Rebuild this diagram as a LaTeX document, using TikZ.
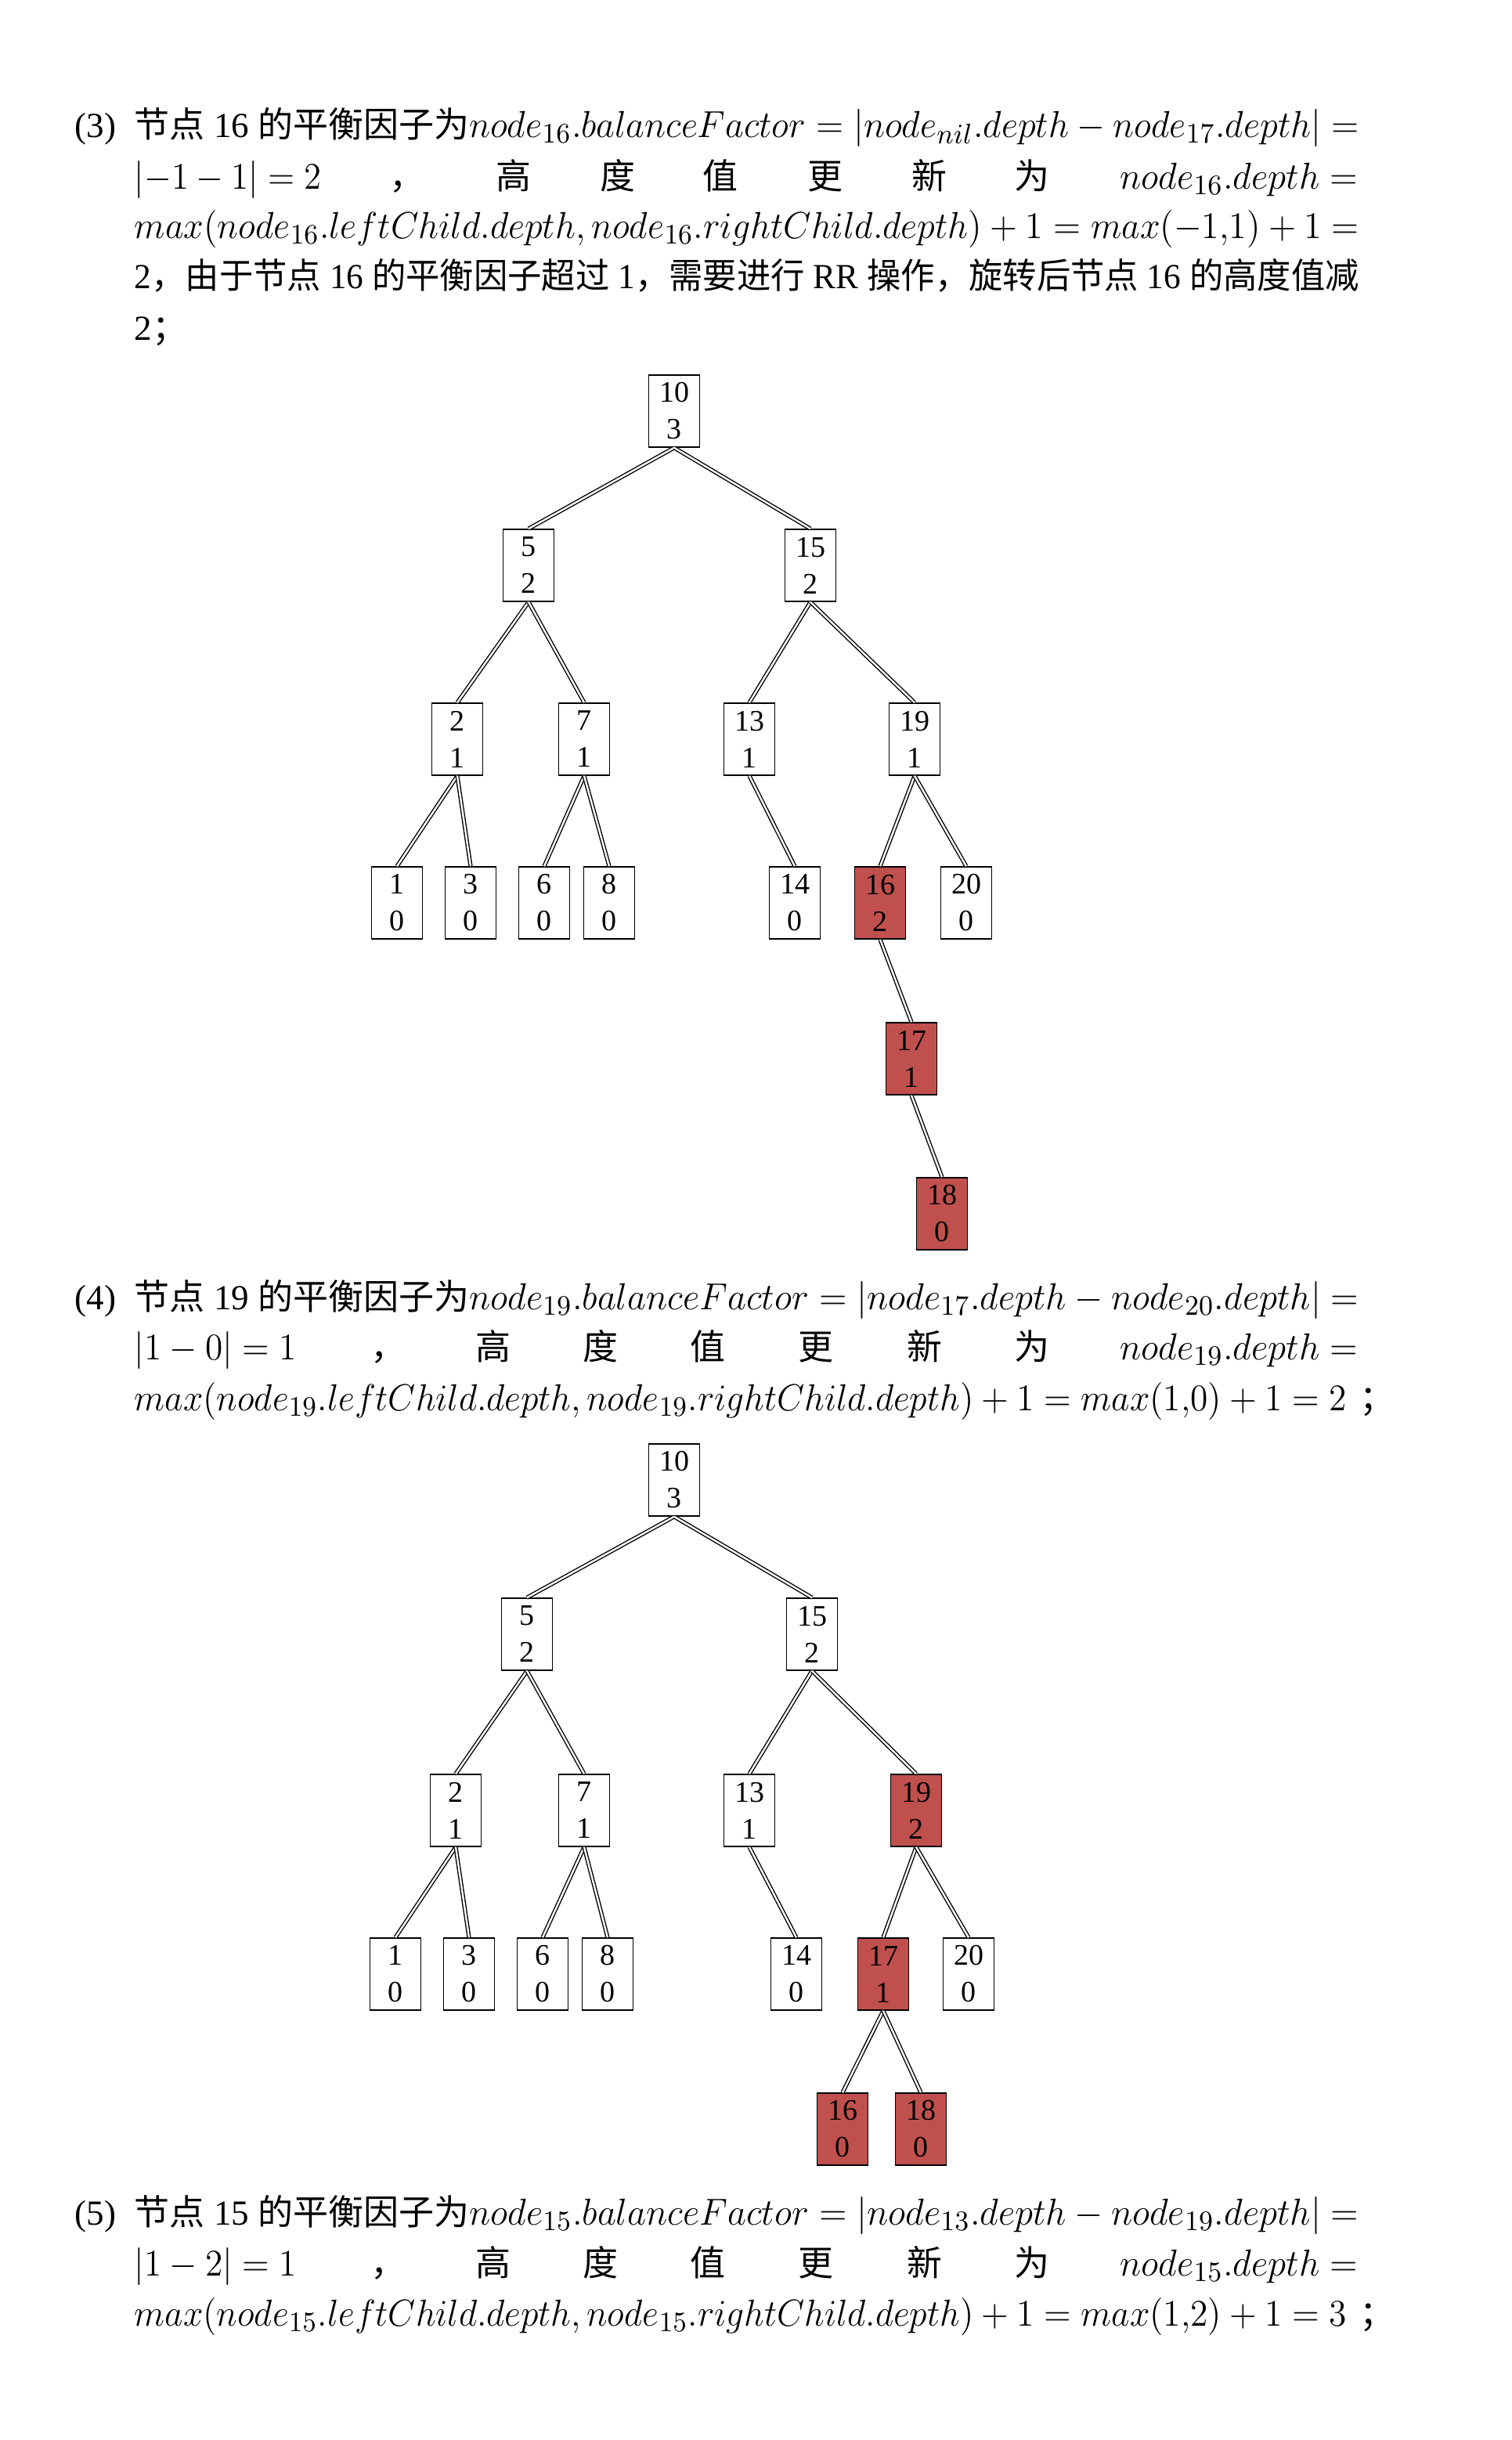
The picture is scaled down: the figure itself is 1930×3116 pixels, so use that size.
\documentclass[tikz,border=0pt]{standalone}
\usepackage{fontspec}
\setmainfont{Liberation Serif}
\newfontfamily\cjk{Noto Sans CJK SC}
\usepackage{graphicx}
\definecolor{boxred}{HTML}{C0504D}
\newcommand{\fitln}[2]{\resizebox{#1}{\height}{#2}}
\newcommand{\mth}[1]{{\fontsize{12.6}{14}\selectfont$#1$}}
\tikzset{
 tn/.style={draw, line width=0.4pt, minimum width=16.25pt, minimum height=23pt, inner sep=0pt, align=center, font=\fontsize{9.5}{11.75}\selectfont},
 hot/.style={tn, fill=boxred},
 edge/.style={double, double distance=0.6pt, line width=0.35pt},
 txt/.style={anchor=base west, inner sep=0pt, font=\fontsize{11.25}{13}\selectfont},
 ctxt/.style={anchor=base, inner sep=0pt, font=\fontsize{11.25}{13}\selectfont},
 rtxt/.style={anchor=base east, inner sep=0pt, font=\fontsize{11.25}{13}\selectfont},
}
\begin{document}
\begin{tikzpicture}[x=0.25pt, y=-0.25pt]
\fill[white] (0,0) rectangle (1930,3116);
\useasboundingbox (0,0) rectangle (1930,3116);

% ---------- Section (3) ----------
\node[txt] (p3) at (95,175) {(3)};
\node[txt] (s3l1) at (171,175) {{\cjk 节点} 16 {\cjk 的平衡因子为}\fitln{284pt}{\mth{node_{16}.balanceFactor=|node_{nil}.depth-node_{17}.depth|=}}};
\node[txt] (s3l2a) at (171,241) {\fitln{59.75pt}{\mth{|{-1}-1|=2}}};
\node[txt] (s3l2b) at (497,241) {\cjk ，};
\node[ctxt] (s3g1) at (656,241) {\cjk 高};
\node[ctxt] (s3g2) at (789,241) {\cjk 度};
\node[ctxt] (s3g3) at (920,241) {\cjk 值};
\node[ctxt] (s3g4) at (1054,241) {\cjk 更};
\node[ctxt] (s3g5) at (1187,241) {\cjk 新};
\node[ctxt] (s3g6) at (1318,241) {\cjk 为};
\node[rtxt] (s3l2c) at (1735,241) {\fitln{76pt}{\mth{node_{16}.depth=}}};
\node[txt] (s3l3) at (171,304) {\fitln{391pt}{\mth{max(node_{16}.leftChild.depth,node_{16}.rightChild.depth)+1=max({-1}{,}1)+1=}}};
\node[txt] (s3l4) at (171,368) {\fitln{391pt}{2{\cjk ，由于节点} 16 {\cjk 的平衡因子超过} 1{\cjk ，需要进行} RR {\cjk 操作，旋转后节点} 16 {\cjk 的高度值减}}};
\node[txt] (s3l5) at (171,434) {2{\cjk ；}};

% ---------- Tree 1 ----------
\node[tn] (a10) at (861,525) {10\\3};
\node[tn] (a5) at (675,722) {5\\2};
\node[tn] (a15) at (1035,722) {15\\2};
\node[tn] (a2) at (584,944) {2\\1};
\node[tn] (a7) at (746,944) {7\\1};
\node[tn] (a13) at (957,944) {13\\1};
\node[tn] (a19) at (1168,944) {19\\1};
\node[tn] (a1) at (507,1153) {1\\0};
\node[tn] (a3) at (601,1153) {3\\0};
\node[tn] (a6) at (695,1153) {6\\0};
\node[tn] (a8) at (778,1153) {8\\0};
\node[tn] (a14) at (1015,1153) {14\\0};
\node[hot] (a16) at (1124,1153) {16\\2};
\node[tn] (a20) at (1234,1153) {20\\0};
\node[hot] (a17) at (1164,1352) {17\\1};
\node[hot] (a18) at (1203,1550) {18\\0};
\foreach \p/\c in {a10/a5,a10/a15,a5/a2,a5/a7,a15/a13,a15/a19,a2/a1,a2/a3,a7/a6,a7/a8,a13/a14,a19/a16,a19/a20,a16/a17,a17/a18}
  \draw[edge] (\p.south) -- (\c.north);

% ---------- Section (4) ----------
\node[txt] (p4) at (95,1672) {(4)};
\node[txt] (s4l1) at (171,1672) {{\cjk 节点} 19 {\cjk 的平衡因子为}\fitln{284pt}{\mth{node_{19}.balanceFactor=|node_{17}.depth-node_{20}.depth|=}}};
\node[txt] (s4l2a) at (171,1736) {\fitln{51.75pt}{\mth{|1-0|=1}}};
\node[txt] (s4l2b) at (473,1736) {\cjk ，};
\node[ctxt] (s4g1) at (630,1736) {\cjk 高};
\node[ctxt] (s4g2) at (767,1736) {\cjk 度};
\node[ctxt] (s4g3) at (904,1736) {\cjk 值};
\node[ctxt] (s4g4) at (1042,1736) {\cjk 更};
\node[ctxt] (s4g5) at (1181,1736) {\cjk 新};
\node[ctxt] (s4g6) at (1318,1736) {\cjk 为};
\node[rtxt] (s4l2c) at (1735,1736) {\fitln{76pt}{\mth{node_{19}.depth=}}};
\node[txt] (s4l3) at (171,1801) {\fitln{387pt}{\mth{max(node_{19}.leftChild.depth,node_{19}.rightChild.depth)+1=max(1{,}0)+1=2}}};
\node[txt] (s4l3b) at (1736,1801) {\cjk ；};

% ---------- Tree 2 ----------
\node[tn] (b10) at (861,1890) {10\\3};
\node[tn] (b5) at (673,2087) {5\\2};
\node[tn] (b15) at (1037,2087) {15\\2};
\node[tn] (b2) at (582,2312) {2\\1};
\node[tn] (b7) at (746,2312) {7\\1};
\node[tn] (b13) at (957,2312) {13\\1};
\node[hot] (b19) at (1170,2312) {19\\2};
\node[tn] (b1) at (505,2521) {1\\0};
\node[tn] (b3) at (599,2521) {3\\0};
\node[tn] (b6) at (693,2521) {6\\0};
\node[tn] (b8) at (776,2521) {8\\0};
\node[tn] (b14) at (1017,2521) {14\\0};
\node[hot] (b17) at (1128,2521) {17\\1};
\node[tn] (b20) at (1237,2521) {20\\0};
\node[hot] (b16) at (1076,2719) {16\\0};
\node[hot] (b18) at (1176,2719) {18\\0};
\foreach \p/\c in {b10/b5,b10/b15,b5/b2,b5/b7,b15/b13,b15/b19,b2/b1,b2/b3,b7/b6,b7/b8,b13/b14,b19/b17,b19/b20,b17/b16,b17/b18}
  \draw[edge] (\p.south) -- (\c.north);

% ---------- Section (5) ----------
\node[txt] (p5) at (95,2841) {(5)};
\node[txt] (s5l1) at (171,2841) {{\cjk 节点} 15 {\cjk 的平衡因子为}\fitln{284pt}{\mth{node_{15}.balanceFactor=|node_{13}.depth-node_{19}.depth|=}}};
\node[txt] (s5l2a) at (171,2906) {\fitln{51.75pt}{\mth{|1-2|=1}}};
\node[txt] (s5l2b) at (473,2906) {\cjk ，};
\node[ctxt] (s5g1) at (630,2906) {\cjk 高};
\node[ctxt] (s5g2) at (767,2906) {\cjk 度};
\node[ctxt] (s5g3) at (904,2906) {\cjk 值};
\node[ctxt] (s5g4) at (1042,2906) {\cjk 更};
\node[ctxt] (s5g5) at (1181,2906) {\cjk 新};
\node[ctxt] (s5g6) at (1318,2906) {\cjk 为};
\node[rtxt] (s5l2c) at (1735,2906) {\fitln{76pt}{\mth{node_{15}.depth=}}};
\node[txt] (s5l3) at (171,2970) {\fitln{387pt}{\mth{max(node_{15}.leftChild.depth,node_{15}.rightChild.depth)+1=max(1{,}2)+1=3}}};
\node[txt] (s5l3b) at (1736,2970) {\cjk ；};
\end{tikzpicture}
\end{document}
